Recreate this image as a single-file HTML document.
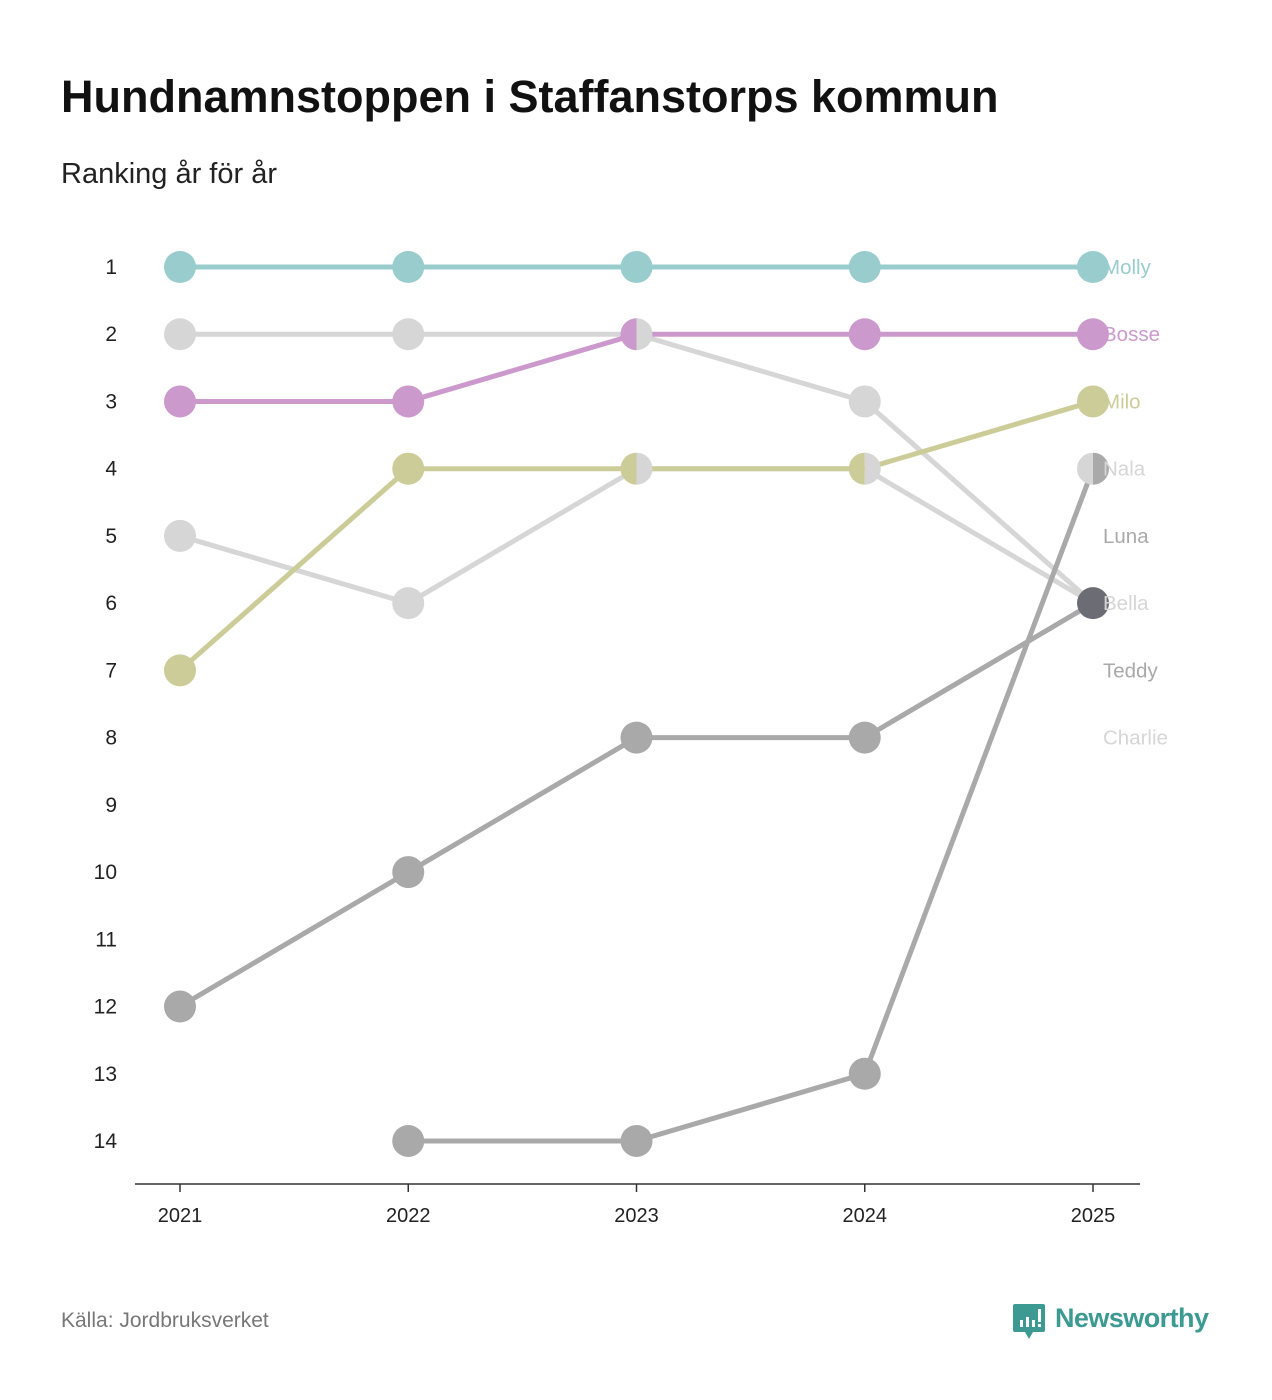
<!DOCTYPE html>
<html><head><meta charset="utf-8"><style>
body{margin:0;background:#fff;font-family:"Liberation Sans",sans-serif;}
#wrap{position:relative;width:1272px;height:1400px;overflow:hidden;}
</style></head><body>
<div id="wrap">
<svg id="chart" width="1272" height="1400" xmlns="http://www.w3.org/2000/svg">
<text x="61" y="112" font-size="45" font-weight="bold" fill="#111">Hundnamnstoppen i Staffanstorps kommun</text>
<text x="61" y="183" font-size="29" fill="#222">Ranking år för år</text>
<text x="61" y="1327" font-size="21" fill="#777">Källa: Jordbruksverket</text>
<g>
<path d="M1015 1304 h28 a2 2 0 0 1 2 2 v24 a2 2 0 0 1 -2 2 h-10 l-4 7 l-4 -7 h-10 a2 2 0 0 1 -2 -2 v-24 a2 2 0 0 1 2 -2z" fill="#3d9a92"/>
<rect x="1020" y="1320" width="3" height="7" fill="#fff"/><rect x="1026" y="1317" width="3" height="10" fill="#fff"/><rect x="1032" y="1320" width="3" height="7" fill="#fff"/><rect x="1038" y="1309" width="3" height="13" fill="#fff"/><rect x="1038" y="1324" width="3" height="3" fill="#fff"/>
<text x="1055" y="1327" font-size="27" font-weight="bold" fill="#3d9a92" textLength="154">Newsworthy</text>
</g>
</svg>
</div>
<script>
const years=[2021,2022,2023,2024,2025];
const names=["Molly","Bosse","Milo","Charlie","Bella","Nala","Luna","Teddy"];
const molly=[1,1,1,1,1];
const bosse=[3,3,2,2,2];
const milo=[7,4,4,4,3];
const charlie=[2,2,2,3,6];
const bella=[5,6,4,4,6];
const nala=[null,null,null,null,4];
const luna=[null,14,14,13,4];
const teddy=[12,10,8,8,6];
const rankTicks=[1,2,3,4,5,6,7,8,9,10,11,12,13,14];
const labelNames=["Molly","Bosse","Milo","Nala","Luna","Bella","Teddy","Charlie"];
const labelRanks=[1,2,3,4,5,6,7,8];
const colors={Molly:"#99cccc",Bosse:"#cc99cc",Milo:"#cccc99",Charlie:"#d6d6d6",Bella:"#d6d6d6",Nala:"#d6d6d6",Luna:"#a9a9a9",Teddy:"#a9a9a9"};
const seriesVals=[molly,bosse,milo,charlie,bella,nala,luna,teddy];
const NS="http://www.w3.org/2000/svg";
const svg=document.getElementById('chart');
const x=i=>180+i*228.25;
const y=r=>267+(r-1)*67.23;
function mk(t,a){const e=document.createElementNS(NS,t);for(const k in a)e.setAttribute(k,a[k]);svg.appendChild(e);return e;}
let ax=mk('line',{x1:135,x2:1140,y1:1184,y2:1184,stroke:'#333','stroke-width':1.5});


years.forEach((yr,i)=>{
 let t=mk('line',{x1:x(i),x2:x(i),y1:1184,y2:1192,stroke:'#333','stroke-width':1.5});
 
 
 let l=mk('text',{x:x(i),y:1222,'font-size':20,fill:'#222','text-anchor':'middle'});l.textContent=yr;
 
 
});
rankTicks.forEach(r=>{
 let l=mk('text',{x:117,y:y(r)+7,'font-size':21,fill:'#222','text-anchor':'end'});l.textContent=r;
 
 
});
const order=[3,4,5,6,7,2,1,0];
order.forEach(s=>{
 const v=seriesVals[s];let d='';
 v.forEach((r,i)=>{if(r==null)return;d+=(d?'L':'M')+x(i)+' '+y(r);});
 let p=mk('path',{d:d,fill:'none',stroke:colors[names[s]],'stroke-width':5});
 
 
});
const groups={};
seriesVals.forEach((v,s)=>v.forEach((r,i)=>{if(r==null)return;const k=i+'_'+r;(groups[k]=groups[k]||[]).push(s);}));
const R=16;
for(const k in groups){
 const [i,r]=k.split('_').map(Number);const g=groups[k];const cx=x(i),cy=y(r);
 if(g.length==1){
  let c=mk('circle',{cx:cx,cy:cy,r:R,fill:colors[names[g[0]]]});
  
  
 }else if(g.length==2){
  let a=mk('path',{d:`M${cx} ${cy-R}A${R} ${R} 0 0 0 ${cx} ${cy+R}Z`,fill:colors[names[g[0]]]});
  
  
  let b=mk('path',{d:`M${cx} ${cy-R}A${R} ${R} 0 0 1 ${cx} ${cy+R}Z`,fill:colors[names[g[1]]]});
  
  
 }else{
  let c=mk('circle',{cx:cx,cy:cy,r:R,fill:'#6c6c74'});
  
  
 }
}
labelNames.forEach((n,j)=>{
 let l=mk('text',{x:1103,y:y(labelRanks[j])+7,'font-size':20.5,fill:colors[n]});l.textContent=n;
 
 
});
</script>
</body></html>
